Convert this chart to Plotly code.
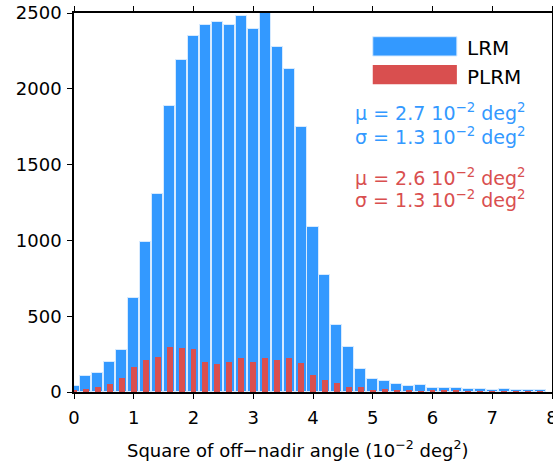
import plotly.graph_objects as go

# --- histogram of squared off-nadir angle, LRM vs PLRM ---
bin_centers = [0.0, 0.2, 0.4, 0.6, 0.8, 1.0, 1.2, 1.4, 1.6, 1.8,
               2.0, 2.2, 2.4, 2.6, 2.8, 3.0, 3.2, 3.4, 3.6, 3.8,
               4.0, 4.2, 4.4, 4.6, 4.8, 5.0, 5.2, 5.4, 5.6, 5.8,
               6.0, 6.2, 6.4, 6.6, 6.8, 7.0, 7.2, 7.4, 7.6, 7.8]
lrm_counts = [40, 104, 128, 196, 280, 623, 987, 1306, 1889, 2189,
              2347, 2420, 2442, 2420, 2481, 2396, 2520, 2277, 2133, 1748,
              1090, 775, 445, 297, 152, 88, 73, 55, 42, 49,
              29, 24, 24, 20, 20, 16, 22, 16, 11, 16]
plrm_counts = [8, 22, 36, 53, 90, 165, 211, 234, 295, 291,
               282, 198, 187, 196, 225, 200, 225, 214, 225, 191,
               110, 82, 57, 31, 31, 13, 18, 11, 11, 5,
               13, 7, 7, 5, 5, 3, 5, 3, 3, 3]

blue = '#3399FF'
red = '#D94F4F'
font = 'DejaVu Sans, Liberation Sans, sans-serif'

fig = go.Figure()
fig.add_trace(go.Bar(x=bin_centers, y=lrm_counts, width=0.185, name='LRM',
                     marker=dict(color=blue, line=dict(color='#d6eaff', width=1))))
fig.add_trace(go.Bar(x=bin_centers, y=plrm_counts, width=0.1, name='PLRM',
                     marker=dict(color=red, line=dict(width=0))))

# legend drawn by hand so the swatches can be wide rectangles
fig.add_shape(type='rect', xref='paper', yref='paper', x0=0.625, x1=0.801, y0=0.8865, y1=0.9375,
              fillcolor=blue, line=dict(color='#d6eaff', width=1))
fig.add_shape(type='rect', xref='paper', yref='paper', x0=0.625, x1=0.801, y0=0.8119, y1=0.8628,
              fillcolor=red, line=dict(width=0))
fig.add_annotation(text='LRM', xref='paper', yref='paper', x=0.817, y=0.907, xanchor='left', yanchor='middle',
                   showarrow=False, font=dict(size=20, color='black', family=font))
fig.add_annotation(text='PLRM', xref='paper', yref='paper', x=0.817, y=0.832, xanchor='left', yanchor='middle',
                   showarrow=False, font=dict(size=20, color='black', family=font))

stats = [
    ('μ = 2.7 10<sup>−2</sup> deg<sup>2</sup>', 0.738, blue),
    ('σ = 1.3 10<sup>−2</sup> deg<sup>2</sup>', 0.675, blue),
    ('μ = 2.6 10<sup>−2</sup> deg<sup>2</sup>', 0.567, red),
    ('σ = 1.3 10<sup>−2</sup> deg<sup>2</sup>', 0.508, red),
]
for txt, ypos, col in stats:
    fig.add_annotation(text=txt, xref='paper', yref='paper', x=0.583, y=ypos, xanchor='left', yanchor='middle',
                       showarrow=False, font=dict(size=19, color=col, family=font))

# x title as an annotation: the original sits a little left of the plot centre
fig.add_annotation(text='Square of off−nadir angle (10<sup>−2</sup> deg<sup>2</sup>)', xref='paper', yref='paper',
                   x=0.469, y=-0.15, xanchor='center', yanchor='middle', showarrow=False,
                   font=dict(size=18, color='black', family=font))

axis_style = dict(showline=True, linecolor='black', linewidth=1.5, mirror='ticks', ticks='outside',
                  ticklen=5, tickwidth=1.2, tickcolor='black', showgrid=False, zeroline=False,
                  automargin=False, ticklabeloverflow='allow',
                  tickfont=dict(size=18, color='black', family=font))
fig.update_layout(
    barmode='overlay',
    bargap=0,
    showlegend=False,
    width=553, height=466,
    margin=dict(l=74, r=1, t=13, b=74),
    plot_bgcolor='white', paper_bgcolor='white',
    xaxis=dict(range=[0, 8], tickvals=[0, 1, 2, 3, 4, 5, 6, 7, 8], ticklabelstandoff=4, **axis_style),
    yaxis=dict(range=[0, 2500], tickvals=[0, 500, 1000, 1500, 2000, 2500], ticklabelstandoff=2,
               **axis_style),
)

# drop the default 8px body margin so the figure fills the window
fig.write_html('out.html', config={'displayModeBar': False},
               post_script="document.body.style.margin='0';")
